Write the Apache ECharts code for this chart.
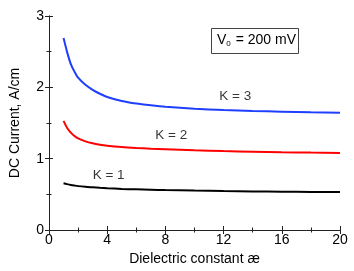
<!DOCTYPE html>
<html><head><meta charset="utf-8">
<script src="https://cdn.jsdelivr.net/npm/echarts@6/dist/echarts.min.js"></script>
<style>html,body{margin:0;padding:0;background:#fff}#c{width:354px;height:271px}</style>
</head><body><div id="c"></div>
<script>
const xVals = [1, 1.25, 1.5, 1.75, 2, 2.5, 3, 3.5, 4, 5, 6, 7, 8, 10, 12, 14, 16, 18, 20];
const k3 = [2.69, 2.49, 2.325, 2.22, 2.135, 2.035, 1.965, 1.91, 1.865, 1.808, 1.772, 1.748, 1.728, 1.70, 1.682, 1.669, 1.659, 1.651, 1.645];
const k2 = [1.53, 1.43, 1.365, 1.318, 1.285, 1.243, 1.215, 1.196, 1.182, 1.163, 1.15, 1.14, 1.132, 1.117, 1.106, 1.098, 1.091, 1.085, 1.08];
const k1 = [0.655, 0.643, 0.632, 0.623, 0.615, 0.605, 0.598, 0.591, 0.585, 0.576, 0.57, 0.565, 0.56, 0.552, 0.546, 0.541, 0.537, 0.534, 0.532];
const curveLabels = [
  {name: 'K = 3', x: 12.8, y: 1.87},
  {name: 'K = 2', x: 8.4, y: 1.33},
  {name: 'K = 1', x: 4.1, y: 0.77}
];
const xTicks = {min: 0, max: 20, interval: 4};
const yTicks = {min: 0, max: 3, interval: 1};

const font = 'Liberation Sans, Arial, sans-serif';
const pair = arr => xVals.map((x, i) => [x, arr[i]]);
const axisCommon = {
  axisLine: {show: true, lineStyle: {color: '#222', width: 1}},
  axisTick: {show: true, inside: true, length: 4, lineStyle: {color: '#222'}},
  minorTick: {show: true, splitNumber: 2, length: 2.5, lineStyle: {color: '#222'}},
  splitLine: {show: false},
  minorSplitLine: {show: false}
};
const chart = echarts.init(document.getElementById('c'));
chart.setOption({
  animation: false,
  grid: {left: 48, right: 14, top: 16, bottom: 41},
  xAxis: [
    Object.assign({type: 'value', position: 'bottom', min: xTicks.min, max: xTicks.max, interval: xTicks.interval,
      name: 'Dielectric constant æ', nameLocation: 'middle', nameGap: 20,
      nameTextStyle: {fontFamily: font, fontSize: 14, color: '#000'},
      axisLabel: {fontFamily: font, fontSize: 14, color: '#000', margin: 3}}, axisCommon),
    Object.assign({type: 'value', position: 'top', min: xTicks.min, max: xTicks.max, interval: xTicks.interval,
      axisLabel: {show: false}}, axisCommon)
  ],
  yAxis: [
    Object.assign({type: 'value', position: 'left', min: yTicks.min, max: yTicks.max, interval: yTicks.interval,
      name: 'DC Current, A/cm', nameLocation: 'middle', nameGap: 27,
      nameTextStyle: {fontFamily: font, fontSize: 14, color: '#000'},
      axisLabel: {fontFamily: font, fontSize: 14, color: '#000', margin: 5}}, axisCommon),
    Object.assign({type: 'value', position: 'right', min: yTicks.min, max: yTicks.max, interval: yTicks.interval,
      axisLabel: {show: false}}, axisCommon)
  ],
  series: [
    {type: 'line', data: pair(k3), smooth: 0.25, symbol: 'none', lineStyle: {color: '#1f3fff', width: 2}},
    {type: 'line', data: pair(k2), smooth: 0.25, symbol: 'none', lineStyle: {color: '#ff0000', width: 2}},
    {type: 'line', data: pair(k1), smooth: 0.25, symbol: 'none', lineStyle: {color: '#000000', width: 2}},
    {type: 'scatter', symbolSize: 0, silent: true,
      data: curveLabels.map(l => ({name: l.name, value: [l.x, l.y]})),
      label: {show: true, position: 'inside', formatter: p => p.name,
        fontFamily: font, fontSize: 13.5, color: '#000'}}
  ],
  graphic: [
    {type: 'rect', left: 211, top: 28, shape: {width: 87, height: 25},
      style: {fill: '#fff', stroke: '#444', lineWidth: 1}},
    {type: 'text', left: 217, top: 33,
      style: {text: 'V{s|0} = 200 mV', font: '14px ' + font, fill: '#000',
        rich: {s: {fontSize: 8, fontFamily: font, padding: [8, 1, 0, 0]}}}}
  ]
});
</script></body></html>
